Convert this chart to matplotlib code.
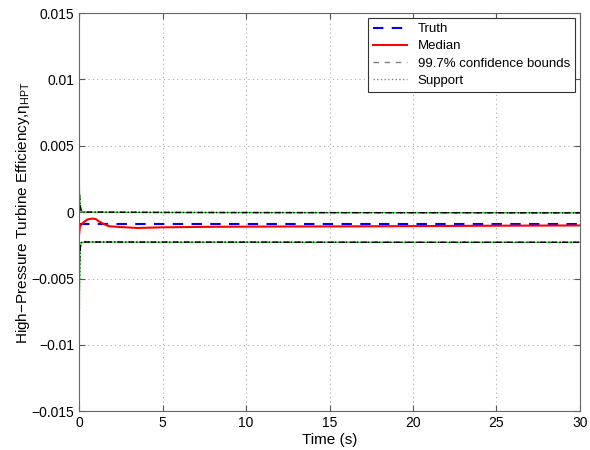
import matplotlib
matplotlib.use('Agg')
import matplotlib.pyplot as plt

plt.rcParams['font.family'] = ['Liberation Sans', 'DejaVu Sans']
plt.rcParams['mathtext.fontset'] = 'custom'
plt.rcParams['mathtext.rm'] = 'Liberation Sans'

# truth parameter
t_truth = [0, 30]
truth = [-0.0009, -0.0009]

# median estimate
t_med = [0, 0.05, 0.15, 0.3, 0.5, 0.8, 1.0, 1.2, 1.5, 1.8, 2.5, 3.5, 5, 8, 12, 16, 20, 25, 30]
median = [-0.0017, -0.0011, -0.0009, -0.00073, -0.00055, -0.00048, -0.00052, -0.0007, -0.0009,
          -0.00106, -0.00112, -0.00119, -0.00114, -0.0011, -0.00108, -0.00107, -0.00105, -0.00102, -0.001]

# 99.7% confidence bounds
t_bnd = [0, 0.03, 0.08, 0.15, 0.3, 1, 5, 10, 20, 30]
upper = [0.0022, 0.0012, 0.0004, 0.0001, 0.0, 0.0, -0.00002, -0.00003, -0.00004, -0.00005]
lower = [-0.0046, -0.0035, -0.0026, -0.0023, -0.00225, -0.00225, -0.00226, -0.00226, -0.00227, -0.00227]

# support
t_sup = [0, 0.02, 0.06, 0.12, 0.3, 1, 5, 10, 20, 30]
sup_hi = [0.0035, 0.0015, 0.0005, 0.0001, 0.0, 0.0, -0.00002, -0.00003, -0.00004, -0.00005]
sup_lo = [-0.0145, -0.006, -0.0028, -0.0023, -0.00225, -0.00225, -0.00226, -0.00226, -0.00227, -0.00227]

fig = plt.figure(figsize=(5.9, 4.5), dpi=100)
ax = fig.add_axes([0.134, 0.086, 0.849, 0.885])

ax.plot(t_sup, sup_hi, color='#33dd33', linewidth=1.0)
ax.plot(t_sup, sup_lo, color='#33dd33', linewidth=1.0)
ax.plot(t_truth, truth, '--', color='blue', linewidth=1.5, dashes=(5, 4), label='Truth')
ax.plot(t_med, median, color='red', linewidth=1.5, label='Median')
ax.plot(t_bnd, upper, '--', color='black', linewidth=1.0, dashes=(4, 4), label='99.7% confidence bounds')
ax.plot(t_bnd, lower, '--', color='black', linewidth=1.0, dashes=(4, 4))
ax.plot(t_sup, sup_hi, ':', color='black', linewidth=1.0, label='Support')
ax.plot(t_sup, sup_lo, ':', color='black', linewidth=1.0)

ax.set_xlim(0, 30)
ax.set_ylim(-0.015, 0.015)
ax.set_xticks([0, 5, 10, 15, 20, 25, 30])
ax.set_yticks([-0.015, -0.01, -0.005, 0, 0.005, 0.01, 0.015])
ax.set_yticklabels(['\u22120.015', '\u22120.01', '\u22120.005', '0', '0.005', '0.01', '0.015'])
ax.tick_params(direction='in', top=True, right=True, labelsize=10, length=4, color='#555555')
for s in ax.spines.values():
    s.set_color('#666666')
ax.grid(True, linestyle=(0, (1, 3)), color='#aaaaaa', linewidth=0.8)

ax.set_xlabel('Time (s)', fontsize=11, labelpad=2)
ax.set_ylabel('High\u2212Pressure Turbine Efficiency,\u03b7$_{\\mathrm{HPT}}$', fontsize=11)
ax.yaxis.set_label_coords(-0.094, 0.5)

leg = ax.legend(loc='upper right', fontsize=9.5, fancybox=False, framealpha=1,
                edgecolor='#333333', borderaxespad=0.4, handlelength=2.6,
                labelspacing=0.38, borderpad=0.35)
leg.get_frame().set_linewidth(0.8)
handles = leg.legend_handles
handles[2].set_color('gray')
handles[3].set_color('gray')

fig.savefig('out.png', dpi=100)
